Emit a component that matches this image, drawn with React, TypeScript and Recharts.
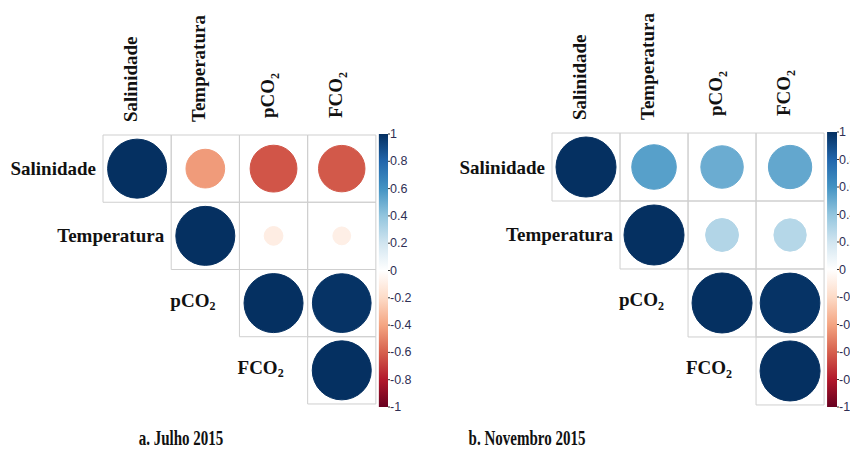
import React from 'react';
import {
  ScatterChart,
  Scatter,
  XAxis,
  YAxis,
  ZAxis,
  Cell,
  ReferenceArea,
} from 'recharts';

// variables, in matrix order
const variables = ['Salinidade', 'Temperatura', 'pCO2', 'FCO2'];

// upper triangle, each row starts at its diagonal cell
const julhoSalinidade = [1, -0.43, -0.63, -0.62];
const julhoTemperatura = [1, -0.1, -0.09];
const julhoPco2 = [1, 0.99];
const julhoFco2 = [1];

const novembroSalinidade = [1, 0.55, 0.5, 0.52];
const novembroTemperatura = [1, 0.3, 0.29];
const novembroPco2 = [1, 0.99];
const novembroFco2 = [1];

const barTicks = [1, 0.8, 0.6, 0.4, 0.2, 0, -0.2, -0.4, -0.6, -0.8, -1];

// corrplot RdBu, from -1 to 1
const palette = [
  '#67001F', '#B2182B', '#D6604D', '#F4A582', '#FDDBC7', '#FFFFFF',
  '#D1E5F0', '#92C5DE', '#4393C3', '#2166AC', '#053061',
];

const SERIF = '"Liberation Serif", "Times New Roman", serif';
const SANS = '"Liberation Sans", Arial, sans-serif';

const hex = (c: string) => [1, 3, 5].map((i) => parseInt(c.slice(i, i + 2), 16));

const corrColor = (r: number) => {
  const t = ((Math.max(-1, Math.min(1, r)) + 1) / 2) * (palette.length - 1);
  const i = Math.min(palette.length - 2, Math.floor(t));
  const f = t - i;
  const a = hex(palette[i]);
  const b = hex(palette[i + 1]);
  const m = a.map((v, k) => Math.round(v + (b[k] - v) * f));
  return `rgb(${m[0]},${m[1]},${m[2]})`;
};

const toPoints = (rows: number[][]) =>
  rows.flatMap((row, i) =>
    row.map((r, k) => ({ x: i + k, y: i, r, z: Math.abs(r) }))
  );

const splitSub = (name: string) =>
  name.endsWith('CO2') ? [name.slice(0, -1), '2'] : [name, ''];

const ColumnTick: React.FC<any> = ({ x, y, payload }) => {
  const [main, sub] = splitSub(variables[payload.value]);
  const y0 = y - (sub ? 4 : 0);
  return (
    <text
      x={x}
      y={y0}
      transform={`rotate(-90, ${x}, ${y0})`}
      textAnchor="start"
      fontFamily={SERIF}
      fontWeight="bold"
      fontSize={19}
      fill="#111"
    >
      {main}
      {sub && (
        <tspan fontSize={12} dy={5}>
          {sub}
        </tspan>
      )}
    </text>
  );
};

const BarTick: React.FC<any> = ({ x, y, payload }) => (
  <text
    x={x}
    y={y}
    dy={4}
    textAnchor="start"
    fontFamily={SANS}
    fontSize={12.5}
    fill="#2f2f55"
  >
    {String(payload.value)}
  </text>
);

const RowLabel: React.FC<any> = ({ cx, cy, payload }) => {
  const [main, sub] = splitSub(payload.name);
  return (
    <text
      x={cx - (sub ? 24 : 7)}
      y={cy - (sub ? 3 : 0)}
      textAnchor="end"
      dominantBaseline="central"
      fontFamily={SERIF}
      fontWeight="bold"
      fontSize={19}
      fill="#111"
    >
      {main}
      {sub && (
        <tspan fontSize={12} dy={6}>
          {sub}
        </tspan>
      )}
    </text>
  );
};

interface PanelProps {
  rows: number[][];
  width: number;
  left: number;
  right: number;
  xMax: number;
  barX: number;
  yDomain: [number, number];
  top: number;
  radius: number;
  gradId: string;
}

const CorrPanel: React.FC<PanelProps> = ({
  rows, width, left, right, xMax, barX, yDomain, top, radius, gradId,
}) => {
  const points = toPoints(rows);
  const labels = variables.map((name, i) => ({ x: i - 0.5, y: i, name }));
  const cells = points.map((p) => ({ x: p.x, y: p.y }));
  return (
    <ScatterChart
      width={width}
      height={452}
      margin={{ top: 0, right, bottom: 45, left }}
    >
      <defs>
        <linearGradient id={gradId} x1="0" y1="1" x2="0" y2="0">
          {palette.map((c, i) => (
            <stop key={c} offset={`${(i / (palette.length - 1)) * 100}%`} stopColor={c} />
          ))}
        </linearGradient>
      </defs>
      <XAxis
        type="number"
        dataKey="x"
        orientation="top"
        domain={[-0.5, xMax]}
        ticks={[0, 1, 2, 3]}
        height={top}
        axisLine={false}
        tickLine={false}
        tickSize={0}
        tickMargin={12}
        tick={<ColumnTick />}
        interval={0}
      />
      <YAxis
        yAxisId="grid"
        type="number"
        dataKey="y"
        domain={yDomain}
        ticks={[0, 1, 2, 3]}
        reversed
        hide
      />
      <YAxis
        yAxisId="bar"
        type="number"
        orientation="right"
        domain={[-1, 1]}
        ticks={barTicks}
        allowDataOverflow
        width={35}
        axisLine={false}
        tickSize={2}
        tickMargin={0}
        tickLine={{ stroke: '#333' }}
        tick={<BarTick />}
        interval={0}
      />
      <ZAxis type="number" dataKey="z" domain={[0, 1]} range={[0, Math.PI * radius * radius]} />
      {cells.map((c) => (
        <ReferenceArea
          key={`${c.x}-${c.y}`}
          yAxisId="grid"
          x1={c.x - 0.5}
          x2={c.x + 0.5}
          y1={c.y - 0.5}
          y2={c.y + 0.5}
          fill="#ffffff"
          fillOpacity={0}
          stroke="#cfcfcf"
          strokeWidth={1}
        />
      ))}
      <ReferenceArea
        yAxisId="bar"
        x1={barX}
        x2={xMax}
        y1={-1}
        y2={1}
        fill={`url(#${gradId})`}
        fillOpacity={1}
        stroke="none"
        ifOverflow="visible"
      />
      <Scatter yAxisId="grid" data={points} isAnimationActive={false}>
        {points.map((p) => (
          <Cell key={`${p.x}-${p.y}`} fill={corrColor(p.r)} stroke={corrColor(p.r)} />
        ))}
      </Scatter>
      <Scatter
        yAxisId="grid"
        data={labels}
        isAnimationActive={false}
        shape={<RowLabel />}
      />
    </ScatterChart>
  );
};

const titleStyle: React.CSSProperties = {
  position: 'absolute',
  top: 427,
  width: 200,
  textAlign: 'center',
  fontFamily: SERIF,
  fontWeight: 'bold',
  fontSize: 20,
  color: '#111',
  transform: 'scaleX(0.75)',
};

export default function App() {
  return (
    <div
      style={{
        position: 'absolute',
        left: 0,
        top: 0,
        width: 850,
        height: 452,
        overflow: 'hidden',
        background: '#fff',
      }}
    >
      <div style={{ position: 'absolute', left: 0, top: 0 }}>
        <CorrPanel
          rows={[julhoSalinidade, julhoTemperatura, julhoPco2, julhoFco2]}
          width={425}
          left={103}
          right={2}
          xMax={3.678}
          barX={3.544}
          yDomain={[-0.515, 3.545]}
          top={134}
          radius={29.5}
          gradId="rdbuJulho"
        />
      </div>
      <div style={{ position: 'absolute', left: 425, top: 0 }}>
        <CorrPanel
          rows={[novembroSalinidade, novembroTemperatura, novembroPco2, novembroFco2]}
          width={460}
          left={127}
          right={13}
          xMax={3.69}
          barX={3.544}
          yDomain={[-0.515, 3.53]}
          top={132}
          radius={30}
          gradId="rdbuNovembro"
        />
      </div>
      <div style={{ ...titleStyle, left: 81 }}>a. Julho 2015</div>
      <div style={{ ...titleStyle, left: 427 }}>b. Novembro 2015</div>
    </div>
  );
}
